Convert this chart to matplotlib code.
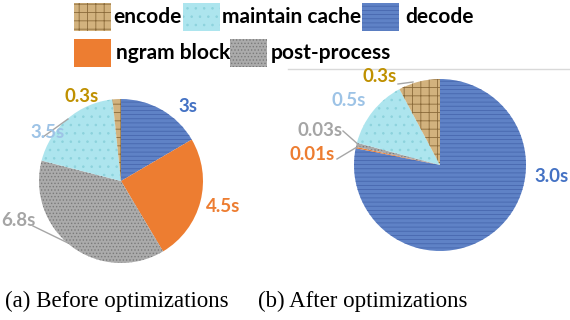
import matplotlib
matplotlib.use("Agg")
import matplotlib.pyplot as plt
from matplotlib.patches import Rectangle

plt.rcParams['hatch.linewidth'] = 0.6

# slice order as drawn, clockwise from 12 o'clock
parts = ['decode', 'ngram block', 'post-process', 'maintain cache', 'encode']
before = [3, 4.5, 6.8, 3.5, 0.3]
after = [3.0, 0.01, 0.03, 0.5, 0.3]
before_labels = ['3s', '4.5s', '6.8s', '3.5s', '0.3s']
after_labels = ['3.0s', '0.01s', '0.03s', '0.5s', '0.3s']
legend_order = ['encode', 'maintain cache', 'decode', 'ngram block', 'post-process']

# face colour, hatch, hatch colour, label colour
style = {
    'encode': ('#D2B27E', '++', '#8A6A3A', '#BF9000'),
    'maintain cache': ('#ADE5EE', '..', '#8CD2DC', '#9DC3E6'),
    'decode': ('#5F82C6', '----', '#4767AE', '#4472C4'),
    'ngram block': ('#ED7D31', '', '#ED7D31', '#ED7D31'),
    'post-process': ('#ABABAB', '.....', '#7A7A7A', '#A5A5A5'),
}

W, H = 570, 320
fig = plt.figure(figsize=(5.7, 3.2), dpi=100)
ax = fig.add_axes([0, 0, 1, 1])


def draw_pie(values, center, radius):
    wedges, _ = ax.pie(values, center=center, radius=radius, startangle=90,
                       counterclock=False, frame=False)
    for w, name in zip(wedges, parts):
        fc, hatch, hc, _ = style[name]
        w.set_facecolor(fc)
        w.set_hatch(hatch)
        w.set_edgecolor(hc)
        w.set_linewidth(0)
    return wedges


draw_pie(before, (121, H - 181), 82)
draw_pie(after, (440, H - 165), 86)

lab_font = dict(fontsize=13.5, fontweight='bold', family='Lato',
                ha='center', va='center')

# label positions in pixels (x, y from top)
before_pos = [(188, 107), (223, 207), (18, 220), (48, 132), (82, 97)]
after_pos = [(552, 177), (312, 154), (320, 130), (349, 100), (380, 77)]

for txt, (x, y), name in zip(before_labels, before_pos, parts):
    ax.text(x, H - y, txt, color=style[name][3], **lab_font)
for txt, (x, y), name in zip(after_labels, after_pos, parts):
    ax.text(x, H - y, txt, color=style[name][3], **lab_font)

# leader lines
leaders = [((43, 137), (68, 119)), ((33, 226), (68, 243)),
           ((398, 84), (413, 82)), ((343, 131), (360, 146)),
           ((337, 159), (357, 147))]
for (x0, y0), (x1, y1) in leaders:
    ax.plot([x0, x1], [H - y0, H - y1], color='#A6A6A6', lw=1)

# chart border remnant
ax.plot([288, 570], [H - 69, H - 69], color='#D9D9D9', lw=1)

# legend
swatches = {
    'encode': (74, 3, 113),
    'maintain cache': (183, 3, 222),
    'decode': (362, 3, 405),
    'ngram block': (74, 39, 116),
    'post-process': (230, 39, 271),
}
for name in legend_order:
    x, y, tx = swatches[name]
    fc, hatch, hc, _ = style[name]
    ax.add_patch(Rectangle((x, H - y - 28), 37, 28, facecolor=fc, hatch=hatch,
                           edgecolor=hc, linewidth=0))
    ax.text(tx, H - y - 14, name, fontsize=15, fontweight='bold', family='Lato',
            ha='left', va='center', color='black')

# captions
ax.text(5, H - 301, '(a) Before optimizations', fontsize=16.5,
        family='Liberation Serif', ha='left', va='center')
ax.text(258, H - 301, '(b) After optimizations', fontsize=16.5,
        family='Liberation Serif', ha='left', va='center')

ax.set_xlim(0, W)
ax.set_ylim(0, H)
ax.set_aspect('auto')
ax.axis('off')

fig.savefig('out.png', dpi=100)
